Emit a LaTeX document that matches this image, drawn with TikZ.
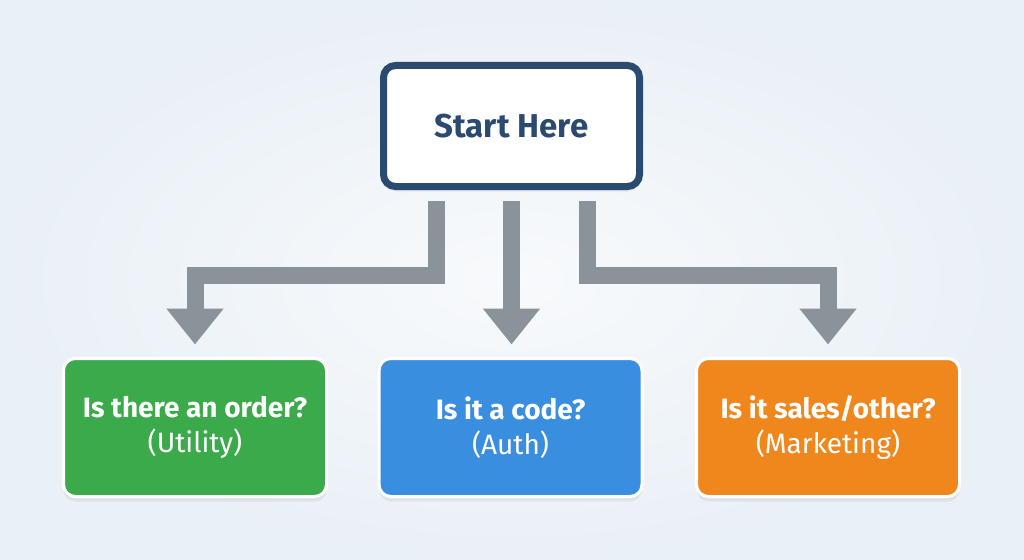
\documentclass[tikz,border=0pt]{standalone}
\usepackage{fontspec}
\setmainfont{Fira Sans}
\usetikzlibrary{arrows.meta,shadows}

\definecolor{navy}{HTML}{2B4A6F}
\definecolor{flowgrey}{HTML}{8A9399}
\definecolor{qgreen}{HTML}{3BAA4A}
\definecolor{qblue}{HTML}{3A8EE0}
\definecolor{qorange}{HTML}{F0871C}
\definecolor{bgedge}{HTML}{E9F0F6}
\definecolor{bgmid}{HTML}{F8FAFC}

\tikzset{
  startbox/.style={draw=navy,line width=7pt,fill=white,rounded corners=12pt,
    minimum width=256pt,minimum height=121pt,text=navy,
    font=\fontsize{33}{36}\selectfont\bfseries,
    drop shadow={opacity=0.12,shadow xshift=0pt,shadow yshift=-5pt}},
  qbox/.style={draw=white,line width=3pt,rounded corners=12pt,
    minimum width=263pt,minimum height=138pt,text=white,align=center,
    font=\fontsize{28}{35}\selectfont,
    drop shadow={opacity=0.12,shadow xshift=0pt,shadow yshift=-5pt}},
  flow/.style={draw=flowgrey,line width=17pt,line join=miter,
    -{Triangle[width=55pt,length=36pt]}},
}

\begin{document}
\begin{tikzpicture}[x=1pt,y=-1pt]
  % background
  \shade[inner color=bgmid,outer color=bgedge] (0,0) rectangle (1024,559);
  \useasboundingbox (0,0) rectangle (1024,559);

  \node[startbox] (start) at (511.5,126) {Start Here};

  \node[qbox,fill=qgreen]  (order) at (195,427.5)
    {\textbf{Is there an order?}\\(Utility)};
  \node[qbox,fill=qblue]   (code) at (510.5,427.5)
    {\textbf{Is it a code?}\\(Auth)};
  \node[qbox,fill=qorange] (sales) at (828,427.5)
    {\textbf{Is it sales/other?}\\(Marketing)};

  % connectors
  \draw[flow] ([xshift=-75.5pt,yshift=-11pt]start.south) -- ++(0,74)
    -| ([yshift=12.5pt]order.north);
  \draw[flow] ([yshift=-11pt]start.south) -- ([yshift=12.5pt]start.south |- code.north);
  \draw[flow] ([xshift=75.5pt,yshift=-11pt]start.south) -- ++(0,74)
    -| ([yshift=12.5pt]sales.north);
\end{tikzpicture}
\end{document}
